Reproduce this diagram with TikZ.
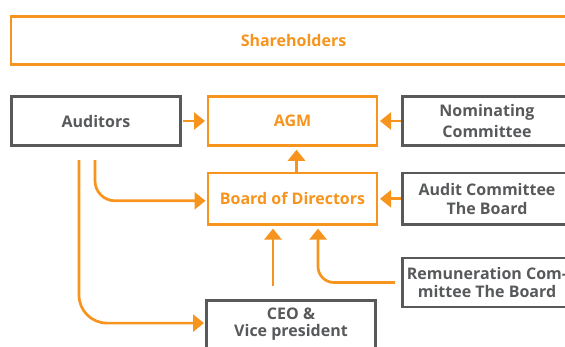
\documentclass[tikz,border=0pt]{standalone}
\usepackage{fontspec}
\setmainfont{Open Sans}
\usetikzlibrary{arrows.meta}
\definecolor{corpOrange}{HTML}{F7941D}
\definecolor{corpGray}{HTML}{58595B}
\begin{document}
\begin{tikzpicture}[x=1pt,y=-1pt,
  base/.style={line width=2.7pt, inner sep=0pt, outer sep=0pt, align=center,
    font=\bfseries\fontsize{16}{18.5}\selectfont},
  obox/.style={base, draw=corpOrange, text=corpOrange},
  gbox/.style={base, draw=corpGray, text=corpGray},
  oarr/.style={draw=corpOrange, line width=2.7pt,
    -{Triangle[length=11pt 0 0,width=17pt 0 0]}}]
\useasboundingbox (0,0) rectangle (565,346);
\clip (0,0) rectangle (565,346);

% boxes
\node[obox, minimum width=565, minimum height=48] (sh) at (293.5,40.4) {Shareholders};
\node[gbox, minimum width=169.4, minimum height=49.5] (aud) at (96,121) {Auditors};
\node[obox, minimum width=169, minimum height=49.5] (agm) at (292.5,121) {AGM};
\node[gbox, minimum width=169.7, minimum height=49.5] (nom) at (487,121) {Nominating\\[2.5pt]Committee};
\node[obox, minimum width=169, minimum height=51.6] (bod) at (292.5,198.8) {Board of Directors};
\node[gbox, minimum width=169.7, minimum height=51.6] (audc) at (487,198.8) {Audit Committee\\The Board};
\node[gbox, minimum width=169.7, minimum height=49] (rem) at (487,282.5) {Remuneration Com-\\mittee The Board};
\node[gbox, minimum width=169, minimum height=48, font=\bfseries\fontsize{16}{17}\selectfont] (ceo) at (291,324.6) {CEO \&\\Vice president};

% free line starts
\coordinate (a1) at (79,160);
\coordinate (a2) at (95,160);
\coordinate (c1) at (273,286);

% connectors
\draw[oarr] ([xshift=2.7pt]aud.east) -- ([xshift=-3pt]agm.west);
\draw[oarr] ([xshift=-1.5pt]nom.west) -- ([xshift=3pt]agm.east);
\draw[oarr] ([xshift=-1.5pt]audc.west) -- ([xshift=3pt]bod.east);
\draw[oarr] ([xshift=4pt]bod.north) -- ([xshift=4pt,yshift=-4pt]agm.south);
\draw[oarr] (c1) -- ([yshift=-4pt]bod.south -| c1);
\draw[oarr, rounded corners=16pt] ([xshift=-7pt]rem.west) -| ([xshift=25.5pt,yshift=-4pt]bod.south);
\draw[oarr, rounded corners=28pt] (a1) |- ([xshift=-2.5pt,yshift=1.5pt]ceo.west);
\draw[oarr, rounded corners=20pt] (a2) |- ([xshift=-2.5pt,yshift=-2pt]bod.west);
\end{tikzpicture}
\end{document}
